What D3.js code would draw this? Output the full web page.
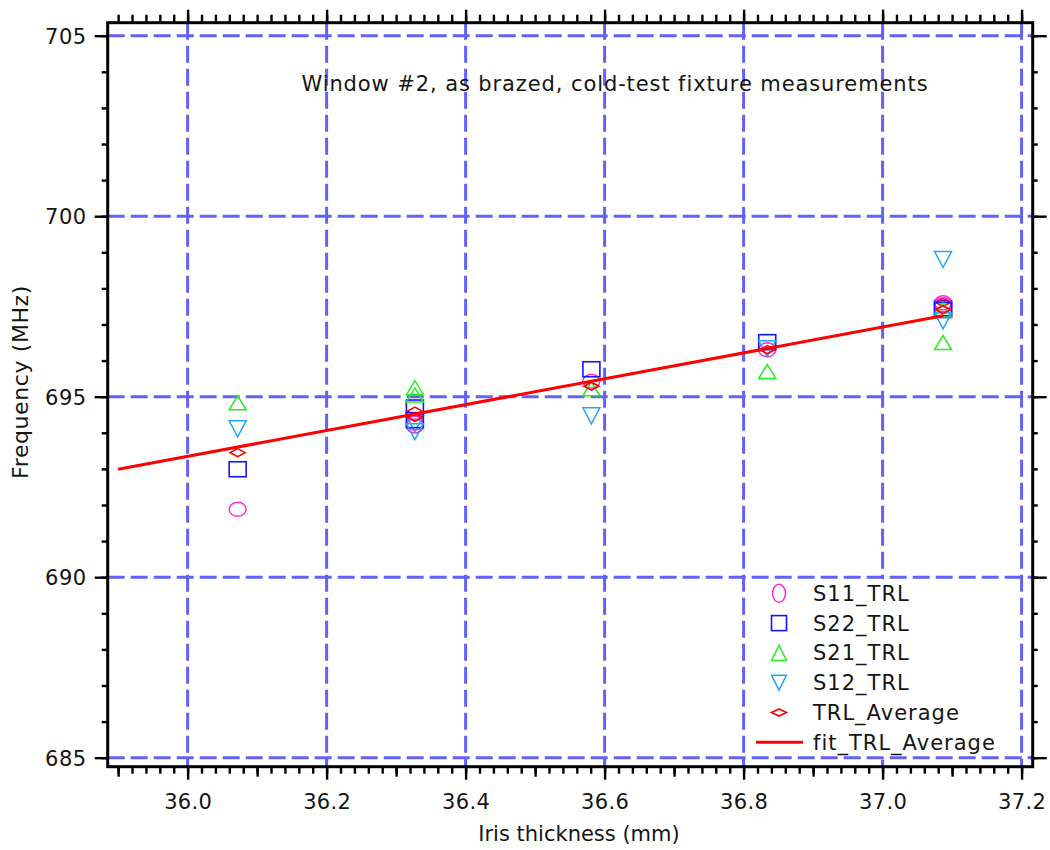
<!DOCTYPE html>
<html>
<head>
<meta charset="utf-8">
<script src="https://cdn.jsdelivr.net/npm/d3@7"></script>
<style>
  body { margin: 0; background: #fff; }
  text { font-family: "DejaVu Sans", sans-serif; fill: #151515; }
</style>
</head>
<body>
<svg id="chart" width="1050" height="850"></svg>
<script>
// iris thickness (mm) of each reading
var xPos = [36.072, 36.327, 36.581, 36.834, 37.087];
var s11 = [691.88, 694.19, 695.43, 696.30, 697.60];
var s22 = [692.99, 694.70, 695.76, 696.51, 697.45];
var s21 = [694.83, 695.25, 695.22, 695.70, 696.50];
var s12 = [694.11, 694.25, 694.47, 696.33, 698.80];
var avg = [693.45, 694.60, 695.29, 696.30, 697.61];

// second set of readings, taken only at two thicknesses
var xPos2 = [36.327, 37.087];
var s11b = [694.27, 697.55];
var s22b = [694.35, 697.40];
var s21b = [695.05, 697.40];
var s12b = [694.03, 697.10];
var avgb = [694.43, 697.41];

// linear fit of TRL_Average (end points)
var fitX = [35.90, 37.087];
var fitY = [692.99, 697.24];

var xTicks = [36.0, 36.2, 36.4, 36.6, 36.8, 37.0, 37.2];
var yTicks = [685, 690, 695, 700, 705];

var title = "Window #2, as brazed, cold-test fixture measurements";

var pL = 107.7, pR = 1032.7, pT = 22.7, pB = 766.7;

var x = d3.scaleLinear().domain([35.885, 37.216]).range([pL, pR]);
var y = d3.scaleLinear().domain([684.75, 705.36]).range([pB, pT]);

var svg = d3.select("#chart");
var grid = "#6262f8";

// vertical grid
svg.append("g").selectAll("line").data(xTicks).enter().append("line")
  .attr("x1", function(d) { return x(d); }).attr("x2", function(d) { return x(d); })
  .attr("y1", pT).attr("y2", pB)
  .attr("stroke", grid).attr("stroke-width", 3).attr("stroke-dasharray", "17,6");

// legend background hides the grid behind it
svg.append("rect")
  .attr("x", x(36.8) + 3).attr("y", y(690) + 2)
  .attr("width", x(37.2) - x(36.8) - 6).attr("height", y(685) - y(690))
  .attr("fill", "#fff");

// horizontal grid
svg.append("g").selectAll("line").data(yTicks).enter().append("line")
  .attr("x1", pL).attr("x2", pR)
  .attr("y1", function(d) { return y(d); }).attr("y2", function(d) { return y(d); })
  .attr("stroke", grid).attr("stroke-width", 3).attr("stroke-dasharray", "17,6");

// tick positions
var xMinor = d3.range(0, 66).map(function(i) { return +(35.9 + i * 0.02).toFixed(2); });
var xMid = [35.9, 36.1, 36.3, 36.5, 36.7, 36.9, 37.1];
var yMinor = d3.range(685, 706);

function tickAxis(axis, vals, size, pos) {
  var g = svg.append("g").attr("transform", pos)
    .call(axis.tickValues(vals).tickSize(size).tickSizeOuter(0).tickFormat(""));
  g.select(".domain").remove();
  g.selectAll("line").attr("stroke", "#000").attr("stroke-width", 2.4);
  return g;
}

tickAxis(d3.axisBottom(x), xMinor, 7, "translate(0," + pB + ")");
tickAxis(d3.axisBottom(x), xMid, 10, "translate(0," + pB + ")");
var xb = tickAxis(d3.axisBottom(x), xTicks, 13, "translate(0," + pB + ")");
xb.selectAll("text").data(xTicks).text(function(d) { return d.toFixed(1); })
  .attr("y", 42).attr("dy", 0).attr("font-size", 21).attr("letter-spacing", 0.3)
  .attr("fill", "#151515");

tickAxis(d3.axisTop(x), xMinor, 8, "translate(0," + pT + ")");
tickAxis(d3.axisTop(x), xTicks, 13, "translate(0," + pT + ")");

tickAxis(d3.axisLeft(y), yMinor, 6, "translate(" + pL + ",0)");
var yl = tickAxis(d3.axisLeft(y), yTicks, 13, "translate(" + pL + ",0)");
yl.selectAll("text").data(yTicks).text(function(d) { return d; })
  .attr("x", -21).attr("dy", "0.36em").attr("font-size", 21).attr("letter-spacing", 0.5)
  .attr("fill", "#151515");

tickAxis(d3.axisRight(y), yMinor, 5, "translate(" + pR + ",0)");
tickAxis(d3.axisRight(y), yTicks, 14, "translate(" + pR + ",0)");

// frame
svg.append("rect").attr("x", pL).attr("y", pT)
  .attr("width", pR - pL).attr("height", pB - pT)
  .attr("fill", "none").attr("stroke", "#000").attr("stroke-width", 3);

// marker shapes
function ellipse(g, cx, cy, rx, ry, c) {
  g.append("ellipse").attr("cx", cx).attr("cy", cy).attr("rx", rx).attr("ry", ry)
    .attr("fill", "none").attr("stroke", c).attr("stroke-width", 1.5);
}
function square(g, cx, cy, w, h, c) {
  g.append("rect").attr("x", cx - w / 2).attr("y", cy - h / 2).attr("width", w).attr("height", h)
    .attr("fill", "none").attr("stroke", c).attr("stroke-width", 1.6);
}
function triUp(g, cx, cy, w, h, c) {
  g.append("path").attr("d", "M" + cx + "," + (cy - h / 2) + "L" + (cx + w / 2) + "," + (cy + h / 2) +
    "L" + (cx - w / 2) + "," + (cy + h / 2) + "Z")
    .attr("fill", "none").attr("stroke", c).attr("stroke-width", 1.5);
}
function triDown(g, cx, cy, w, h, c) {
  g.append("path").attr("d", "M" + cx + "," + (cy + h / 2) + "L" + (cx + w / 2) + "," + (cy - h / 2) +
    "L" + (cx - w / 2) + "," + (cy - h / 2) + "Z")
    .attr("fill", "none").attr("stroke", c).attr("stroke-width", 1.5);
}
function diamond(g, cx, cy, w, h, c) {
  g.append("path").attr("d", "M" + (cx - w / 2) + "," + cy + "L" + cx + "," + (cy - h / 2) +
    "L" + (cx + w / 2) + "," + cy + "L" + cx + "," + (cy + h / 2) + "Z")
    .attr("fill", "none").attr("stroke", c).attr("stroke-width", 1.6);
}

var cS11 = "#ff2fd0", cS22 = "#1414ff", cS21 = "#22ee22", cS12 = "#1ea8ff", cAvg = "#ff0000";

var marks = svg.append("g");
function plotSet(xs, a, b, c, d, e) {
  xs.forEach(function(v, i) {
    var px = x(v);
    ellipse(marks, px, y(a[i]), 8.5, 7, cS11);
    square(marks, px, y(b[i]), 17, 15, cS22);
    triUp(marks, px, y(c[i]), 17, 14, cS21);
    triDown(marks, px, y(d[i]), 17, 16, cS12);
    diamond(marks, px, y(e[i]), 15, 8, cAvg);
  });
}
plotSet(xPos, s11, s22, s21, s12, avg);
plotSet(xPos2, s11b, s22b, s21b, s12b, avgb);

// fit line
svg.append("path")
  .datum(fitX.map(function(v, i) { return [v, fitY[i]]; }))
  .attr("d", d3.line().x(function(d) { return x(d[0]); }).y(function(d) { return y(d[1]); }))
  .attr("fill", "none").attr("stroke", cAvg).attr("stroke-width", 3);

// legend
var legItems = ["S11_TRL", "S22_TRL", "S21_TRL", "S12_TRL", "TRL_Average", "fit_TRL_Average"];
var leg = svg.append("g");
var lx = 779, ly0 = 593.3, ldy = 29.8;
ellipse(leg, lx, ly0, 6.5, 9, cS11);
square(leg, lx, ly0 + ldy, 15, 15, cS22);
triUp(leg, lx, ly0 + 2 * ldy, 15, 15, cS21);
triDown(leg, lx, ly0 + 3 * ldy, 15, 15, cS12);
diamond(leg, lx, ly0 + 4 * ldy, 15, 7, cAvg);
leg.append("line").attr("x1", 756).attr("x2", 803)
  .attr("y1", ly0 + 5 * ldy).attr("y2", ly0 + 5 * ldy)
  .attr("stroke", cAvg).attr("stroke-width", 3);
leg.selectAll("text").data(legItems).enter().append("text")
  .attr("x", 813).attr("y", function(d, i) { return ly0 + i * ldy; })
  .attr("dy", "0.36em").attr("font-size", 21).attr("letter-spacing", 1)
  .text(function(d) { return d; });

// titles
svg.append("text").attr("x", 615).attr("y", 91).attr("text-anchor", "middle")
  .attr("font-size", 21).attr("letter-spacing", 0.9).text(title);

svg.append("text").attr("x", 579).attr("y", 841).attr("text-anchor", "middle")
  .attr("font-size", 21).text("Iris thickness (mm)");

svg.append("text").attr("transform", "translate(28,382) rotate(-90)")
  .attr("text-anchor", "middle").attr("font-size", 22).attr("letter-spacing", 0.6)
  .text("Frequency (MHz)");
</script>
</body>
</html>
